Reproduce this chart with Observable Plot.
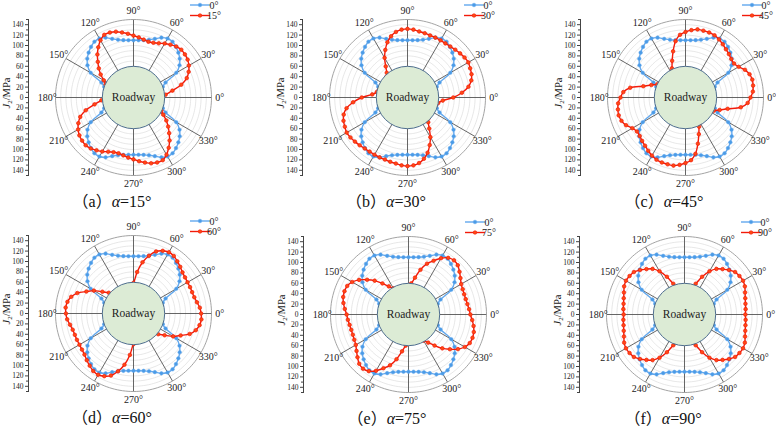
<!DOCTYPE html>
<html><head><meta charset="utf-8">
<script src="https://cdn.jsdelivr.net/npm/d3@7"></script>
<script src="https://cdn.jsdelivr.net/npm/@observablehq/plot@0.6"></script>
<style>
body{margin:0;background:#fff;width:776px;height:439px;overflow:hidden;position:relative;font-family:"Liberation Serif","Times New Roman","Noto Sans CJK SC",serif;}
.panel{position:absolute;width:258px;height:200px;}
.panel svg{max-width:none !important;}
.panel svg text{font-family:"Liberation Serif","Times New Roman",serif;}
.cap{position:absolute;font-size:16px;line-height:16px;white-space:nowrap;transform:translateX(-50%);color:#111;}
</style></head><body>
<script>
// angle of each sample (degrees) and tick definitions
const angles = d3.range(0, 360, 5);
const angleTicks = [0, 30, 60, 90, 120, 150, 180, 210, 240, 270, 300, 330];
const radialTicks = [-140, -120, -100, -80, -60, -40, -20, 0, 20, 40, 60, 80, 100, 120, 140];
const radialMinor = [-150, -130, -110, -90, -70, -50, -30, -10, 10, 30, 50, 70, 90, 110, 130, 150];
const gridRadii = [70, 80, 90, 100, 110, 120, 130, 140];
const roadwayRadius = 60;
const rMax = 150;

// J2 (MPa) around the roadway, bedding angle 0° (reference curve)
const blue0 = [50,52,55,57,60,68,95,108,116,122,127,131,131,127,120,115,112,110.5,
  110,110.5,112,115,120,127,131,131,127,122,116,108,95,68,60,57,55,52,
  50,52,55,57,60,68,95,108,116,122,127,131,131,127,120,115,112,110.5,
  110,110.5,112,115,120,127,131,131,127,122,116,108,95,68,60,57,55,52];
const red15 = [55,62,76,95,109,117,123,127,129,130,128,124,120,115,112,111,113,116,
  119,123,127,131,133,133,127,118,108,97,87,77,66,59,55,54,53,54,
  55,62,76,95,109,117,123,127,129,130,128,124,120,115,112,111,113,116,
  119,123,127,131,133,133,127,118,108,97,87,77,66,59,55,54,53,54];
const red30 = [88,105,119,127,131,133,135,134,132,130,128,127,127,127,127,128,129,131,
  132,131,128,122,113,101,88,73,62,57,55,54,54,54,55,57,60,68,
  88,105,119,127,131,133,135,134,132,130,128,127,127,127,127,128,129,131,
  132,131,128,122,113,101,88,73,62,57,55,54,54,54,55,57,60,68];
const red45 = [125,130,132,133,131,126,118,114,115,118,121,125,129,132,133,133,133,130,
  126,121,110,92,75,62,56,54,53,53,53,54,56,60,70,84,108,120,
  125,130,132,133,131,126,118,114,115,118,121,125,129,132,133,133,133,130,
  126,121,110,92,75,62,56,54,53,53,53,54,56,60,70,84,108,120];
const red60 = [130,128,124,121,120,120,120,121,123,127,131,135,136,133,127,115,100,80,
  59,55,53,53,53,53,54,54,55,56,62,73,88,100,115,124,129,131,
  130,128,124,121,120,120,120,121,123,127,131,135,136,133,127,115,100,80,
  59,55,53,53,53,53,54,54,55,56,62,73,88,100,115,124,129,131];
const red75 = [119,117,115,114,114,115,117,122,128,134,136,133,125,114,104,89,72,60,
  55,53,53,53,53,54,58,66,78,92,104,116,125,130,131,130,127,123,
  119,117,115,114,114,115,117,122,128,134,136,133,125,114,104,89,72,60,
  55,53,53,53,53,54,58,66,78,92,104,116,125,130,131,130,127,123];
const red90 = [117,118,119,121,124,128,130,129,127,121,114,107,96,80,63,56,54,53,
  53,53,54,56,63,80,96,107,114,121,127,129,130,128,124,121,119,118,
  117,118,119,121,124,128,130,129,127,121,114,107,96,80,63,56,54,53,
  53,53,54,56,63,80,96,107,114,121,127,129,130,128,124,121,119,118];

const panelLetters = ["a", "b", "c", "d", "e", "f"];
const alphas = [15, 30, 45, 60, 75, 90];
const redSeries = [red15, red30, red45, red60, red75, red90];
const panelLeft = [0, 274, 552, 0, 275, 551];
const panelTop = [0, 0, 0, 216, 217, 217];

const BLUE = "#62a8ee", BLUE_PT = "#4b9be6";
const RED = "#f21a0a", RED_PT = "#ff4a14";
const rad = a => a * Math.PI / 180;
const px = d => d.r * Math.cos(rad(d.a));
const py = d => d.r * Math.sin(rad(d.a));

function makePanel(i) {
  const W = 258, H = 200, cx = 133, cy = 97, R = 78, axisX = 28;
  const k = R / rMax;
  const blueData = angles.map((a, j) => ({a, r: blue0[j]}));
  const redData = angles.map((a, j) => ({a, r: redSeries[i][j]}));
  const circleData = [];
  for (const r of gridRadii) for (const a of d3.range(0, 361, 2)) circleData.push({r, a});
  const outer = d3.range(0, 361, 2).map(a => ({r: rMax, a}));
  const fontFam = "'Liberation Serif', 'Times New Roman', serif";
  const svg = Plot.plot({
    width: W, height: H,
    marginLeft: axisX, marginTop: cy - R, marginBottom: H - (cy + R), marginRight: W - (cx + R),
    x: {domain: [-rMax, rMax], range: [cx - R, cx + R], axis: null},
    y: {domain: [-rMax, rMax], range: [cy + R, cy - R]},
    style: {fontFamily: fontFam, background: "transparent", color: "#333", overflow: "visible", maxWidth: "none"},
    marks: [
      Plot.line(circleData, {x: px, y: py, z: "r", stroke: "#d6d6d6", strokeWidth: 0.6}),
      Plot.link(angleTicks, {x1: 0, y1: 0, x2: a => rMax * Math.cos(rad(a)), y2: a => rMax * Math.sin(rad(a)), stroke: "#555", strokeWidth: 0.9}),
      Plot.line(outer, {x: px, y: py, stroke: "#999", strokeWidth: 0.9}),
      Plot.text(angleTicks, {x: a => 166 * Math.cos(rad(a)), y: a => 166 * Math.sin(rad(a)), text: a => a + "°", fontSize: 10, fill: "#222"}),
      Plot.line(blueData, {x: px, y: py, curve: "catmull-rom-closed", stroke: BLUE, strokeWidth: 1.4}),
      Plot.dot(blueData, {x: px, y: py, r: 1.8, fill: BLUE_PT, stroke: BLUE, strokeWidth: 0.5}),
      Plot.line(redData, {x: px, y: py, curve: "catmull-rom-closed", stroke: RED, strokeWidth: 1.4}),
      Plot.dot(redData, {x: px, y: py, r: 1.8, fill: RED_PT, stroke: RED, strokeWidth: 0.7}),
      Plot.dot([0], {x: () => 0, y: () => 0, r: roadwayRadius * k, fill: "#dcebd5", stroke: "#4f6e8f", strokeWidth: 1}),
      Plot.text(["Roadway"], {x: () => 0, y: () => 0, text: d => d, fontSize: 11.5, fill: "#222"}),
      Plot.frame({anchor: "left", stroke: "#444"}),
      Plot.axisY(radialMinor, {anchor: "left", tickSize: 2, tickFormat: () => "", label: null, stroke: "#444"}),
      Plot.axisY(radialTicks, {anchor: "left", tickSize: 3, tickPadding: 2, tickFormat: d => Math.abs(d), fontSize: 7.5, label: null, stroke: "#444", fill: "#222"})
    ]
  });
  svg.style.maxWidth = "none";
  const s = d3.select(svg);
  // axis title J2/MPa
  const t = s.append("text").attr("transform", `translate(10,${cy - 4}) rotate(-90)`)
    .attr("text-anchor", "middle").attr("font-size", 10.5).attr("fill", "#222");
  t.append("tspan").attr("font-style", "italic").text("J");
  t.append("tspan").attr("font-size", 7).attr("dy", 2).text("2");
  t.append("tspan").attr("dy", -2).text("/MPa");
  // legend
  const leg = [{name: "0°", c: BLUE, f: BLUE_PT, y: 5}, {name: alphas[i] + "°", c: RED, f: RED_PT, y: 15.5}];
  for (const l of leg) {
    s.append("line").attr("x1", 190).attr("x2", 210).attr("y1", l.y).attr("y2", l.y).attr("stroke", l.c).attr("stroke-width", 1.4);
    s.append("circle").attr("cx", 200).attr("cy", l.y).attr("r", 1.8).attr("fill", l.f).attr("stroke", l.c).attr("stroke-width", 0.6);
    s.append("text").attr("x", 214).attr("y", l.y).attr("dy", "0.35em").attr("font-size", 10).attr("fill", "#222").text(l.name);
  }
  const div = document.createElement("div");
  div.className = "panel";
  div.style.left = panelLeft[i] + "px";
  div.style.top = panelTop[i] + "px";
  div.appendChild(svg);
  document.body.appendChild(div);
  const cap = document.createElement("div");
  cap.className = "cap";
  cap.style.left = (panelLeft[i] + 112) + "px";
  cap.style.top = (panelTop[i] + 194) + "px";
  cap.innerHTML = `（${panelLetters[i]}）<i>α</i>=${alphas[i]}°`;
  document.body.appendChild(cap);
}
for (let i = 0; i < 6; i++) makePanel(i);
</script>
</body></html>
